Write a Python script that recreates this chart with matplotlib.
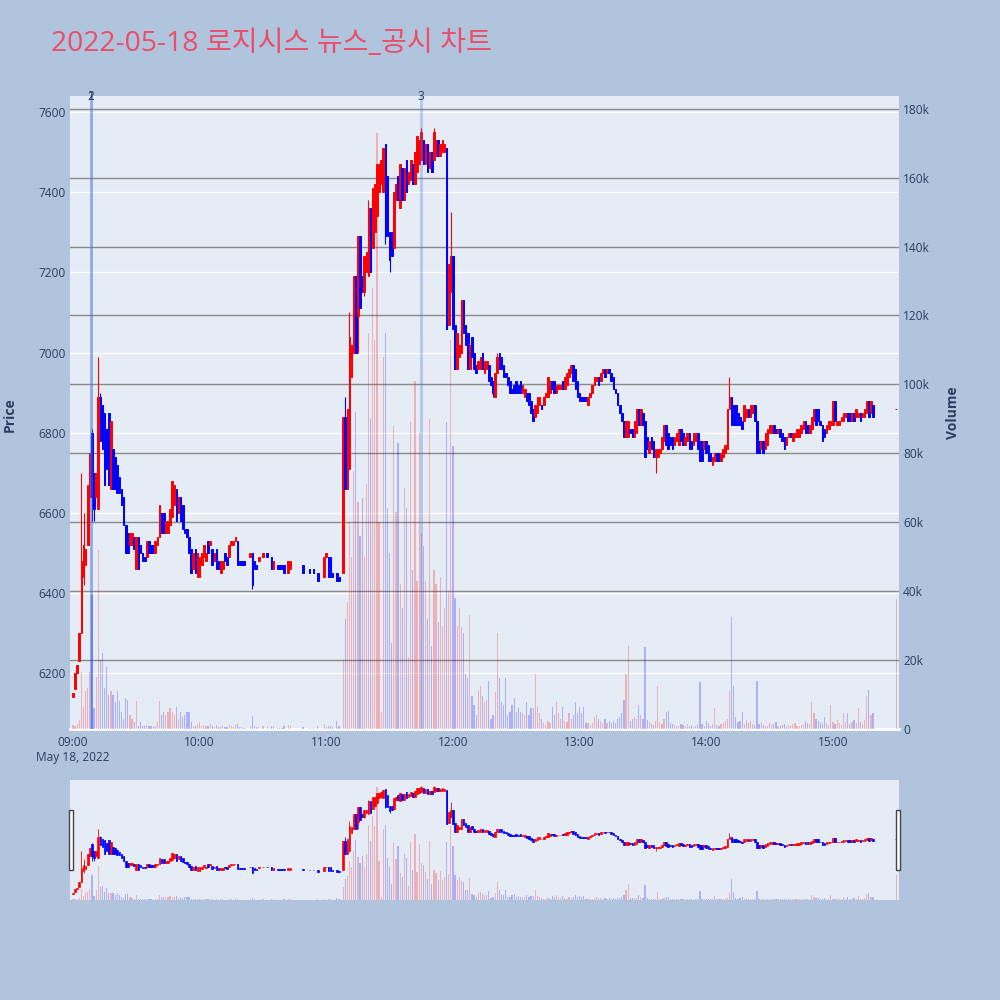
import matplotlib
matplotlib.use("Agg")
import matplotlib.pyplot as plt
from matplotlib.patches import Rectangle
from matplotlib.transforms import blended_transform_factory
import numpy as np

plt.rcParams['font.family'] = ['Open Sans', 'Noto Sans CJK KR', 'DejaVu Sans']

title = "2022-05-18 로지시스 뉴스_공시 차트"

# one candle per minute from 09:00 (None = no trade in that minute)
opens = [
    6140, 6160, 6200, 6230, 6300, 6440, 6470, 6520, 6640, 6800,
    6700, 6640, 6610, 6890, 6870, 6850, 6810, 6850, 6660, 6760,
    6740, 6720, 6690, 6660, 6640, 6570, 6550, 6520, 6520, 6540,
    6460, 6540, 6520, 6500, 6490, 6490, 6530, 6520, 6520, 6500,
    6520, 6540, 6600, 6600, 6550, 6550, 6570, 6590, 6620, 6660,
    6600, 6640, 6620, 6560, 6560, 6540, 6510, 6460, 6510, 6440,
    6440, 6470, 6490, 6480, 6530, 6520, 6510, 6480, 6510, 6480,
    6450, 6460, 6500, 6490, 6490, 6520, 6520, 6530, 6530, 6480,
    6480, 6480, None, None, 6490, 6500, 6480, 6470, 6480, None,
    6490, None, 6500, None, 6490, 6460, None, 6470, 6470, 6470,
    6470, None, 6450, 6460, None, None, None, None, None, 6470,
    None, None, 6460, None, 6460, None, 6450, None, None, 6440,
    6490, 6490, 6490, 6450, None, 6450, 6440, None, 6450, 6840,
    6660, 6710, 6940, 7000, 7190, 7090, 7290, 7190, 7150, 7200,
    7190, 7360, 7260, 7300, 7340, 7400, 7420, 7400, 7520, 7440,
    7300, 7300, 7260, 7380, 7440, 7360, 7460, 7380, 7480, 7420,
    7430, 7470, 7420, 7450, 7470, 7480, 7530, 7470, 7520, 7460,
    7500, 7480, 7490, 7530, 7490, 7500, 7500, 7510, 7070, 7150,
    7240, 7070, 6960, 6990, 7000, 7130, 7070, 7050, 6960, 7040,
    7000, 6970, 6960, 6960, 7000, 6950, 6960, 6970, 6940, 6930,
    6890, 6950, 7000, 6990, 6970, 6950, 6940, 6930, 6910, 6920,
    6930, 6920, 6930, 6900, 6890, 6900, 6900, 6880, 6860, 6840,
    6850, 6870, 6870, 6870, 6890, 6890, 6900, 6930, 6930, 6900,
    6910, 6910, 6930, 6910, 6920, 6940, 6950, 6970, 6960, 6930,
    6900, 6890, 6890, 6890, 6870, 6890, 6900, 6920, 6930, 6940,
    6930, 6950, 6960, 6950, 6960, 6950, 6940, 6910, 6900, 6870,
    6850, 6830, 6790, 6790, 6810, 6810, 6790, 6800, 6860, 6820,
    6850, 6830, 6790, 6750, 6790, 6780, 6740, 6740, 6750, 6760,
    6780, 6820, 6800, 6790, 6790, 6770, 6780, 6770, 6810, 6800,
    6770, 6780, 6800, 6780, 6770, 6780, 6800, 6780, 6780, 6760,
    6780, 6770, 6750, 6720, 6730, 6750, 6750, 6730, 6740, 6750,
    6760, 6860, 6890, 6870, 6870, 6850, 6840, 6830, 6830, 6840,
    6860, 6840, 6850, 6870, 6830, 6780, 6760, 6780, 6760, 6770,
    6800, 6800, 6820, 6810, 6800, 6810, 6800, 6790, 6770, 6790,
    6800, 6780, 6790, 6790, 6790, 6800, 6810, 6830, 6820, 6800,
    6810, 6830, 6860, 6860, 6830, 6820, 6810, 6800, 6810, 6820,
    6820, 6880, 6820, 6820, 6830, 6830, 6840, 6850, 6850, 6830,
    6850, 6840, 6840, 6850, 6840, 6840, 6850, 6880, 6850, 6870,
]
closes = [
    6150, 6200, 6220, 6300, 6480, 6520, 6510, 6670, 6750, 6640,
    6610, 6700, 6890, 6780, 6760, 6670, 6710, 6670, 6830, 6660,
    6660, 6650, 6650, 6620, 6570, 6500, 6500, 6550, 6550, 6510,
    6540, 6460, 6500, 6480, 6480, 6530, 6500, 6500, 6500, 6530,
    6540, 6620, 6550, 6550, 6580, 6580, 6610, 6680, 6670, 6580,
    6640, 6580, 6560, 6550, 6540, 6500, 6450, 6500, 6450, 6500,
    6490, 6500, 6520, 6500, 6500, 6530, 6470, 6500, 6460, 6460,
    6480, 6480, 6480, 6470, 6520, 6530, 6530, 6540, 6470, 6470,
    6470, 6470, None, None, 6500, 6420, 6460, 6460, 6490, None,
    6500, None, 6490, None, 6460, 6480, None, 6460, 6460, 6460,
    6450, None, 6480, 6480, None, None, None, None, None, 6450,
    None, None, 6450, None, 6450, None, 6430, None, None, 6490,
    6500, 6440, 6440, 6440, None, 6430, 6430, None, 6840, 6660,
    6860, 7040, 7020, 7190, 7000, 7290, 7110, 7150, 7240, 7250,
    7360, 7200, 7410, 7420, 7470, 7470, 7480, 7510, 7290, 7290,
    7230, 7240, 7400, 7420, 7380, 7470, 7380, 7460, 7400, 7450,
    7480, 7420, 7500, 7540, 7530, 7550, 7470, 7520, 7450, 7500,
    7450, 7550, 7530, 7490, 7520, 7530, 7520, 7060, 7220, 7240,
    7060, 6960, 7050, 7020, 7130, 7050, 7020, 6960, 7020, 6990,
    6960, 6950, 6980, 6990, 6960, 6980, 6980, 6930, 6920, 6900,
    6950, 6990, 6960, 6960, 6940, 6940, 6920, 6900, 6900, 6900,
    6900, 6900, 6900, 6920, 6910, 6880, 6870, 6850, 6830, 6870,
    6890, 6890, 6860, 6890, 6900, 6940, 6930, 6910, 6900, 6920,
    6920, 6920, 6910, 6940, 6950, 6960, 6970, 6930, 6910, 6890,
    6880, 6880, 6880, 6880, 6890, 6900, 6920, 6940, 6940, 6920,
    6950, 6960, 6940, 6960, 6950, 6930, 6910, 6900, 6870, 6850,
    6830, 6790, 6830, 6830, 6800, 6790, 6830, 6860, 6820, 6860,
    6820, 6740, 6760, 6780, 6760, 6740, 6760, 6760, 6760, 6790,
    6820, 6770, 6760, 6770, 6760, 6790, 6800, 6810, 6780, 6770,
    6790, 6800, 6760, 6760, 6800, 6800, 6760, 6730, 6730, 6780,
    6750, 6730, 6730, 6740, 6750, 6730, 6730, 6750, 6760, 6770,
    6860, 6890, 6820, 6820, 6820, 6820, 6820, 6810, 6870, 6860,
    6840, 6870, 6870, 6830, 6750, 6750, 6780, 6750, 6800, 6810,
    6820, 6820, 6800, 6800, 6810, 6790, 6780, 6760, 6790, 6800,
    6790, 6800, 6800, 6810, 6810, 6820, 6830, 6800, 6800, 6820,
    6840, 6860, 6820, 6830, 6820, 6780, 6790, 6820, 6830, 6830,
    6880, 6830, 6830, 6830, 6840, 6850, 6850, 6830, 6830, 6850,
    6830, 6860, 6850, 6830, 6850, 6860, 6880, 6840, 6880, 6840,
]
volumes = [
    1200, 900, 1500, 2500, 16600, 6500, 11000, 11800, 16600, 39000,
    6000, 15000, 52000, 20000, 22000, 12000, 18000, 10000, 11000, 10000,
    7700, 11000, 8000, 5000, 3000, 9000, 8500, 4000, 3000, 2000,
    8000, 1000, 2000, 1000, 1000, 1200, 800, 1000, 500, 1000,
    2000, 8000, 4000, 5000, 4000, 5000, 6000, 5000, 4000, 6500,
    3000, 5000, 3500, 4000, 5000, 5000, 2000, 1000, 1000, 1500,
    2000, 1000, 1200, 800, 1000, 1500, 900, 700, 1200, 600,
    800, 1000, 600, 500, 1200, 900, 700, 1100, 1500, 600,
    500, 400, None, None, 800, 3700, 1000, 500, 500, None,
    1000, None, 500, None, 1000, 800, None, 300, 300, 300,
    1000, None, 1200, 800, None, None, None, None, None, 600,
    None, None, 300, None, 300, None, 800, None, None, 1500,
    500, 1000, 800, 500, None, 2400, 1000, None, 20000, 32000,
    37000, 60000, 50000, 75000, 92000, 66000, 56000, 67000, 50000, 71000,
    115000, 90000, 128000, 113000, 173000, 60000, 5000, 108000, 115000, 64000,
    51000, 25000, 88000, 63000, 83000, 42000, 35000, 70000, 64000, 21000,
    89000, 46000, 101000, 43000, 86000, 57000, 53000, 43000, 32000, 90000,
    24000, 46000, 42000, 31000, 44000, 30000, 35000, 89000, 40000, 113000,
    82000, 38000, 30000, 35000, 29600, 27800, 16000, 14800, 33000, 9500,
    7000, 4000, 11000, 12400, 9500, 7700, 8300, 14000, 3000, 4000,
    10600, 28000, 14800, 7700, 7000, 14800, 4000, 5000, 7000, 9000,
    5000, 6000, 5000, 4700, 4000, 7700, 4000, 6000, 6000, 16000,
    6500, 4700, 3000, 1800, 1200, 2400, 1800, 6500, 4000, 7700,
    4700, 3000, 6500, 2400, 2000, 4700, 3000, 4000, 7700, 4700,
    6500, 4700, 6500, 1800, 1800, 1200, 1800, 3500, 4000, 3000,
    2400, 1800, 3000, 1800, 2400, 1800, 2400, 1800, 3000, 3500,
    4700, 8300, 16000, 24000, 2400, 3000, 3500, 3000, 7000, 4000,
    3000, 23700, 2500, 2000, 1500, 1200, 2200, 12400, 2000, 1500,
    3000, 4800, 5300, 1800, 1500, 1200, 1000, 800, 1500, 1200,
    1000, 1500, 800, 1200, 600, 900, 1200, 13600, 1500, 1000,
    2200, 1800, 900, 1500, 6000, 1200, 900, 1500, 1800, 2400,
    3000, 11000, 32500, 12400, 3500, 2000, 2400, 5000, 1500, 2500,
    1800, 2200, 1500, 1200, 14000, 1500, 2000, 1200, 1000, 800,
    1800, 1200, 1500, 2000, 1000, 800, 1200, 1500, 900, 1200,
    1000, 1500, 1800, 800, 1000, 1200, 1500, 2200, 1800, 1500,
    7700, 4500, 3000, 2400, 2000, 1500, 3500, 1800, 1200, 7000,
    2000, 1500, 2500, 1800, 1200, 4500, 2000, 4500, 1500, 2000,
    2500, 1800, 6200, 2000, 1500, 2500, 9700, 11400, 4000, 4500,
]
# wicks that reach beyond the body (minute: price)
wick_high = {4: 6700, 5: 6600, 9: 6810, 12: 6990, 13: 6900, 129: 6890,
             131: 7100, 140: 7380, 165: 7560, 171: 7560, 179: 7350,
             201: 7000, 311: 6940}
wick_low = {5: 6420, 9: 6580, 10: 6580, 85: 6410, 135: 7000, 138: 7140,
            148: 7270, 150: 7200, 199: 6890, 276: 6700}

# 15:30 closing auction
auction_minute = 390
auction_price = 6860
auction_volume = 37800

news_minutes = [8.5, 8.5, 164.8]
news_labels = ['1', '2', '3']

tick_minutes = [0, 60, 120, 180, 240, 300, 360]
tick_labels = ['09:00', '10:00', '11:00', '12:00', '13:00', '14:00', '15:00']
price_ticks = [6200, 6400, 6600, 6800, 7000, 7200, 7400, 7600]
vol_ticks = [0, 20000, 40000, 60000, 80000, 100000, 120000, 140000, 160000, 180000]
vol_labels = ['0', '20k', '40k', '60k', '80k', '100k', '120k', '140k', '160k', '180k']

UP = '#FF0000'
DOWN = '#0000FF'
BG = '#B0C4DE'
PLOT_BG = '#E5ECF6'
TXT = '#2a3f5f'
XLIM = (-1.4, 391.3)
PLIM = (6061, 7640)
VLIM = (0, 183700)

# assemble the traded minutes
ms, o, c, h, l, v = [], [], [], [], [], []
for i in range(len(opens)):
    if opens[i] is None:
        continue
    ms.append(i)
    o.append(opens[i])
    c.append(closes[i])
    h.append(max(opens[i], closes[i], wick_high.get(i, 0)))
    l.append(min(opens[i], closes[i], wick_low.get(i, 99999)))
    v.append(volumes[i])
ms.append(auction_minute)
o.append(auction_price)
c.append(auction_price)
h.append(auction_price)
l.append(auction_price)
v.append(auction_volume)
ms, o, c, h, l, v = map(np.array, (ms, o, c, h, l, v))
cols = np.where(c >= o, UP, DOWN)


def draw(axp, axv, wick_lw, edge_lw):
    axp.vlines(ms, l, h, colors=cols, lw=wick_lw, zorder=3)
    axp.bar(ms, c - o, bottom=o, width=0.8, color=cols, edgecolor=cols,
            linewidth=edge_lw, zorder=3)
    axv.bar(ms, v, width=0.6, color=cols, alpha=0.25, linewidth=0)
    axp.set_xlim(*XLIM)
    axp.set_ylim(*PLIM)
    axv.set_ylim(*VLIM)
    for a in (axp, axv):
        for s in a.spines.values():
            s.set_visible(False)


fig = plt.figure(figsize=(10, 10), dpi=100, facecolor=BG)

ax = fig.add_axes([0.070, 0.271, 0.829, 0.633], facecolor=PLOT_BG)
ax2 = ax.twinx()
draw(ax, ax2, 0.8, 0.7)

# grid lines (price in white, volume in grey), both under the traces
for p in price_ticks:
    ax.axhline(p, color='white', lw=1.0, zorder=0.5)
vtrans = blended_transform_factory(ax.transAxes, ax2.transData)
for vt in vol_ticks[1:]:
    ax.plot([0, 1], [vt, vt], transform=vtrans, color='#8a8a8a', lw=1.0, zorder=0.8)
ax.plot([0, 1], [0, 0], transform=vtrans, color='white', lw=2, zorder=0.8, clip_on=False)

ax.set_yticks(price_ticks)
ax.set_yticklabels([str(p) for p in price_ticks])
ax.set_xticks(tick_minutes)
ax.set_xticklabels(tick_labels)
ax.tick_params(axis='y', length=0, pad=3, labelsize=8.6, labelcolor=TXT)
ax.tick_params(axis='x', length=0, pad=5, labelsize=8.6, labelcolor=TXT)
ax2.set_yticks(vol_ticks)
ax2.set_yticklabels(vol_labels)
ax2.tick_params(axis='y', length=0, pad=3, labelsize=8.6, labelcolor=TXT)

# news markers
for nm, lab in zip(news_minutes, news_labels):
    ax.axvline(nm, color='royalblue', alpha=0.3, lw=2, zorder=5)
    ax.text(nm, 0.999, lab, transform=blended_transform_factory(ax.transData, ax.transAxes),
            ha='center', va='center', fontsize=8.6, color=TXT, clip_on=False, zorder=6)

fig.text(0.073, 0.2425, 'May 18, 2022', ha='center', va='center', fontsize=8.6, color=TXT)
fig.text(0.010, 0.585, 'Price', rotation=90, ha='center', va='center',
         fontsize=10, fontweight='bold', color=TXT)
fig.text(0.953, 0.587, 'Volume', rotation=90, ha='center', va='center',
         fontsize=10, fontweight='bold', color=TXT)
fig.text(0.051, 0.949, title, ha='left', va='baseline', fontsize=20.3, color='#EB4E68')

# range slider
sl = fig.add_axes([0.070, 0.100, 0.829, 0.120], facecolor=PLOT_BG)
sl2 = sl.twinx()
draw(sl, sl2, 0.6, 0.5)
for a in (sl, sl2):
    a.set_xticks([])
    a.set_yticks([])
for hx in (0.0685, 0.8955):
    fig.patches.append(Rectangle((hx, 0.130), 0.004, 0.060, transform=fig.transFigure,
                                 facecolor='white', edgecolor='#444444', lw=1))

fig.savefig('out.png', dpi=100, facecolor=BG)
